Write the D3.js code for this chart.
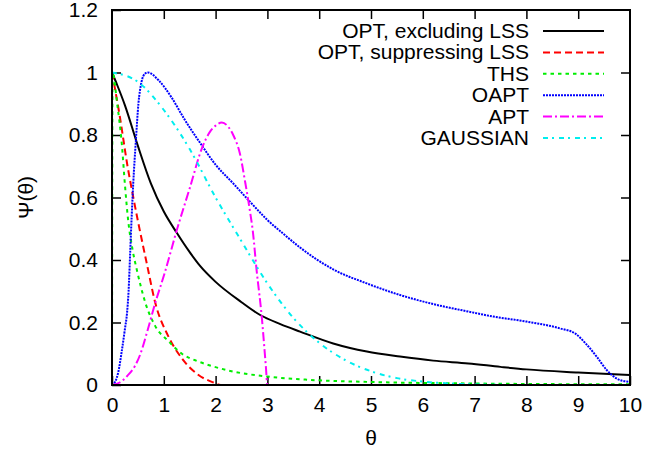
<!DOCTYPE html>
<html>
<head>
<meta charset="utf-8">
<script src="https://cdn.jsdelivr.net/npm/d3@7"></script>
<style>
  body { margin: 0; background: #fff; }
  text { font-family: "Liberation Sans", Arial, sans-serif; font-size: 21px; fill: #000; }
</style>
</head>
<body>
<div id="chart"></div>
<script>
// values, [theta, psi]
const optExcl = [[0,1.0],[0.1,0.96],[0.25,0.895],[0.5,0.765],[0.75,0.645],[1.0,0.555],[1.25,0.487],[1.5,0.425],[1.7,0.381],[2.0,0.33],[2.5,0.265],[2.86,0.224],[3.25,0.195],[3.63,0.171],[4.27,0.133],[4.92,0.107],[5.56,0.091],[6.2,0.078],[6.88,0.069],[7.5,0.058],[8,0.05],[9,0.04],[10,0.032]];
const optSupp = [[0,1.0],[0.15,0.86],[0.3,0.7],[0.4,0.61],[0.5,0.525],[0.67,0.39],[0.84,0.26],[1.09,0.155],[1.35,0.085],[1.67,0.032],[1.96,0.008],[2.1,0],[10,0]];
const ths = [[0,0],[0.01,1.0],[0.1,0.9],[0.19,0.77],[0.25,0.64],[0.31,0.53],[0.4,0.43],[0.48,0.368],[0.65,0.26],[0.83,0.19],[1.09,0.14],[1.35,0.1],[1.67,0.075],[1.96,0.059],[2.34,0.043],[3.0,0.027],[3.76,0.017],[4.92,0.01],[6.88,0.005],[10,0.002]];
const oapt = [[0,0],[0.06,0.01],[0.12,0.04],[0.19,0.11],[0.25,0.18],[0.29,0.23],[0.32,0.3],[0.35,0.42],[0.38,0.54],[0.41,0.645],[0.46,0.78],[0.51,0.9],[0.57,0.97],[0.63,0.995],[0.69,1.0],[0.9,0.975],[1.15,0.92],[1.4,0.85],[1.7,0.775],[2.0,0.705],[2.34,0.645],[2.7,0.58],[3.0,0.528],[3.3,0.485],[3.63,0.44],[4.27,0.37],[4.92,0.325],[5.56,0.288],[6.2,0.259],[6.88,0.235],[7.36,0.219],[8.0,0.203],[8.65,0.181],[8.94,0.165],[9.16,0.13],[9.36,0.09],[9.55,0.048],[9.74,0.021],[9.94,0.011],[10,0.01]];
const apt = [[0,0],[0.15,0.008],[0.3,0.03],[0.44,0.06],[0.55,0.1],[0.67,0.165],[0.83,0.26],[1.02,0.36],[1.25,0.495],[1.51,0.635],[1.73,0.755],[1.89,0.81],[2.0,0.83],[2.12,0.84],[2.25,0.825],[2.34,0.8],[2.47,0.74],[2.57,0.65],[2.66,0.56],[2.72,0.49],[2.79,0.37],[2.89,0.22],[2.97,0.06],[3.0,0],[10,0]];
const gaussian = [[0,1.0],[0.5,0.97],[1.0,0.88],[1.5,0.755],[2.0,0.6],[2.5,0.46],[3.0,0.325],[3.5,0.215],[4.0,0.135],[4.5,0.08],[5.0,0.044],[5.5,0.022],[6.0,0.011],[6.5,0.005],[7.0,0.002],[8,0],[10,0]];

const seriesNames = ["OPT, excluding LSS", "OPT, suppressing LSS", "THS", "OAPT", "APT", "GAUSSIAN"];
const seriesData = [optExcl, optSupp, ths, oapt, apt, gaussian];
const seriesColors = ["#000000", "#ff0000", "#00ee00", "#0000ff", "#ff00ff", "#00eeee"];
const seriesDash = [null, "7,4", "3.5,4", "2,1", "9,3,2,3", "5,4,2,5"];

const xTicks = [0,1,2,3,4,5,6,7,8,9,10];
const yTicks = [0,0.2,0.4,0.6,0.8,1,1.2];

const W = 666, H = 452;
const margin = {top: 10, right: 36, bottom: 67, left: 112};
const width = W - margin.left - margin.right,
      height = H - margin.top - margin.bottom;

const svg = d3.select("#chart").append("svg")
    .attr("width", W)
    .attr("height", H);
const g = svg.append("g")
    .attr("transform", `translate(${margin.left},${margin.top})`);

const x = d3.scaleLinear().domain([0, 10]).range([0, width]);
const y = d3.scaleLinear().domain([0, 1.2]).range([height, 0]);

// ticks on all four sides, pointing inward
const tickLen = 9;
g.append("g").attr("transform", `translate(0,${height})`)
  .call(d3.axisBottom(x).tickValues(xTicks).tickSize(-tickLen).tickPadding(12).tickFormat(d3.format("d")));
g.append("g")
  .call(d3.axisTop(x).tickValues(xTicks.slice(1, -1)).tickSize(-tickLen).tickFormat(""));
g.append("g")
  .call(d3.axisLeft(y).tickValues(yTicks).tickSize(-tickLen).tickPadding(14).tickFormat(d => d3.format("")(+d.toFixed(1))));
g.append("g").attr("transform", `translate(${width},0)`)
  .call(d3.axisRight(y).tickValues(yTicks.slice(1, -1)).tickSize(-tickLen).tickFormat(""));

g.selectAll(".domain").remove();
g.selectAll(".tick line").attr("stroke", "#000").attr("stroke-width", 1.5);
g.selectAll(".tick text").style("font-size", "21px").style("font-family", '"Liberation Sans", Arial, sans-serif');

const line = d3.line()
  .x(d => x(d[0]))
  .y(d => y(d[1]))
  .curve(d3.curveMonotoneX);

seriesData.forEach((data, i) => {
  g.append("path")
    .datum(data)
    .attr("fill", "none")
    .attr("stroke", seriesColors[i])
    .attr("stroke-width", 2)
    .attr("stroke-dasharray", seriesDash[i])
    .attr("d", line);
});

// frame
g.append("rect")
  .attr("width", width).attr("height", height)
  .attr("fill", "none").attr("stroke", "#000").attr("stroke-width", 2);

// legend
const legend = g.append("g").attr("transform", `translate(${width - 101},21)`);
seriesNames.forEach((name, i) => {
  const row = legend.append("g").attr("transform", `translate(0,${i * 21.4})`);
  row.append("text")
    .attr("x", 0).attr("y", 7)
    .attr("text-anchor", "end")
    .text(name);
  row.append("line")
    .attr("x1", 14).attr("x2", 75)
    .attr("stroke", seriesColors[i])
    .attr("stroke-width", 2)
    .attr("stroke-dasharray", seriesDash[i]);
});

// axis labels
svg.append("text")
  .attr("transform", `translate(33,${margin.top + height / 2}) rotate(-90)`)
  .attr("text-anchor", "middle")
  .text("Ψ(θ)");
svg.append("text")
  .attr("x", margin.left + width / 2).attr("y", 445)
  .attr("text-anchor", "middle")
  .text("θ");
</script>
</body>
</html>
